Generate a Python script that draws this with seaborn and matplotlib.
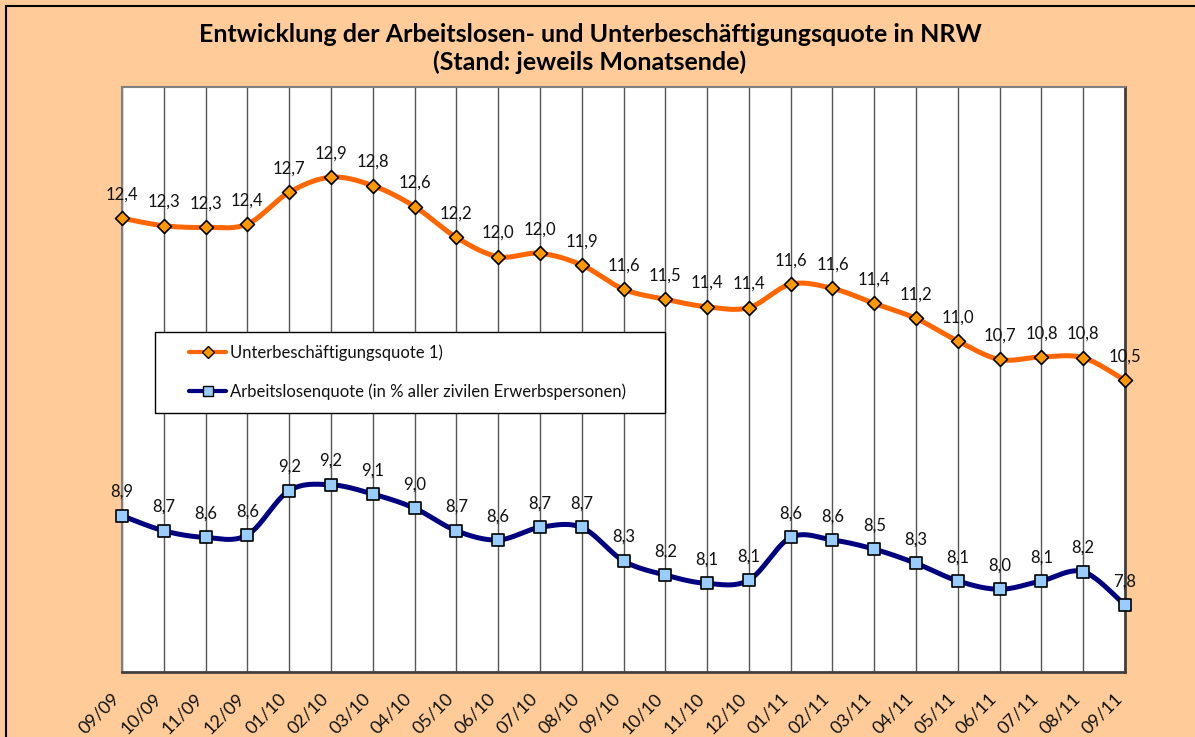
import numpy as np
import pandas as pd
import matplotlib
matplotlib.use("Agg")
import matplotlib.pyplot as plt
import seaborn as sns
from matplotlib.lines import Line2D
from matplotlib.legend_handler import HandlerLine2D
from matplotlib.patches import Rectangle
from matplotlib.transforms import ScaledTranslation

# ---------------- data ----------------
months = ["09/09", "10/09", "11/09", "12/09", "01/10", "02/10", "03/10", "04/10",
          "05/10", "06/10", "07/10", "08/10", "09/10", "10/10", "11/10", "12/10",
          "01/11", "02/11", "03/11", "04/11", "05/11", "06/11", "07/11", "08/11", "09/11"]
unterbeschaeftigung = [12.43, 12.34, 12.32, 12.36, 12.74, 12.92, 12.82, 12.57, 12.20,
                       11.97, 12.01, 11.87, 11.58, 11.46, 11.37, 11.36, 11.64, 11.59,
                       11.41, 11.23, 10.96, 10.74, 10.77, 10.76, 10.49]
arbeitslosen = [8.87, 8.69, 8.61, 8.64, 9.17, 9.24, 9.13, 8.96, 8.69, 8.58, 8.73, 8.73,
                8.33, 8.16, 8.06, 8.10, 8.61, 8.58, 8.47, 8.30, 8.09, 7.99, 8.09, 8.20, 7.80]
series_names = ["Unterbeschäftigungsquote 1)",
                "Arbeitslosenquote (in % aller zivilen Erwerbspersonen)"]
title_lines = ["Entwicklung der Arbeitslosen- und Unterbeschäftigungsquote in NRW",
               "(Stand: jeweils Monatsende)"]

# ---------------- style ----------------
BG = "#FFCC99"
ORANGE_LINE = "#FF6600"
ORANGE_MARK = "#FF9900"
NAVY = "#000080"
BLUE_MARK = "#99CCFF"

sns.set_theme(style="white")
plt.rcParams['font.family'] = ['Lato', 'DejaVu Sans']


def smooth(vals, n=24):
    """Excel-like smoothed line (Catmull-Rom / Bezier) through the data points."""
    p = np.column_stack([np.arange(len(vals)), vals]).astype(float)
    ext = np.vstack([p[0], p, p[-1]])
    t = np.linspace(0, 1, n, endpoint=False)[:, None]
    xs, ys = [], []
    for i in range(len(p) - 1):
        p0, p1, p2, p3 = ext[i], ext[i + 1], ext[i + 2], ext[i + 3]
        c1 = p1 + (p2 - p0) / 6
        c2 = p2 - (p3 - p1) / 6
        b = (1 - t) ** 3 * p1 + 3 * (1 - t) ** 2 * t * c1 + 3 * (1 - t) * t ** 2 * c2 + t ** 3 * p2
        xs.append(b[:, 0]); ys.append(b[:, 1])
    xs.append([p[-1, 0]]); ys.append([p[-1, 1]])
    return np.concatenate(xs), np.concatenate(ys)


fig = plt.figure(figsize=(11.95, 7.37), dpi=100, facecolor=BG)
ax = fig.add_axes([122 / 1195, 1 - 672 / 737, (1125 - 122) / 1195, (672 - 87) / 737])
ax.set_facecolor("white")

x = np.arange(len(months))
series = [
    (unterbeschaeftigung, ORANGE_LINE, ORANGE_MARK, "D", 50),
    (arbeitslosen, NAVY, BLUE_MARK, "s", 70),
]
for vals, lc, mc, mk, ms in series:
    sx, sy = smooth(vals)
    sns.lineplot(x=sx, y=sy, sort=False, estimator=None, color=lc, lw=3.6, ax=ax, zorder=3)
    sns.scatterplot(x=x, y=vals, marker=mk, s=ms, color=mc, edgecolor="black",
                    linewidth=1.2, ax=ax, zorder=5, clip_on=False)
    for xi, v in zip(x, vals):
        ax.annotate(f"{v:.1f}".replace(".", ","), (xi, v), xytext=(0, 13.5),
                    textcoords="offset points", ha="center", va="baseline",
                    fontsize=12, color="#111111", annotation_clip=False)

ax.set_xlim(0, len(months) - 1)
ax.set_ylim(7, 14)
ax.set_yticks([])
ax.set_xticks(x)
ax.set_xticklabels(months, rotation=45, ha="right", rotation_mode="anchor", fontsize=13)
ax.tick_params(axis="x", length=0, pad=13, colors="#111111")
off = ScaledTranslation(-11 / 100, 0, fig.dpi_scale_trans)
for lab in ax.get_xticklabels():
    lab.set_transform(lab.get_transform() + off)
ax.grid(axis="x", color="#555555", lw=1)
ax.grid(axis="y", visible=False)
ax.set_xlabel(""); ax.set_ylabel("")
for side, col, lw in [("left", "#808080", 1.5), ("top", "#808080", 1.5),
                      ("bottom", "#404040", 2), ("right", "#404040", 2)]:
    ax.spines[side].set_visible(True)
    ax.spines[side].set_color(col)
    ax.spines[side].set_linewidth(lw)


class PadHandler(HandlerLine2D):
    def adjust_drawing_area(self, legend, orig_handle, xdescent, ydescent, width, height, fontsize):
        pad = 1.3 * fontsize
        return xdescent - pad, ydescent, width - pad, height


handles = [
    Line2D([], [], color=ORANGE_LINE, lw=3, marker="D", markersize=6.5,
           markerfacecolor=ORANGE_MARK, markeredgecolor="black", markeredgewidth=1),
    Line2D([], [], color=NAVY, lw=3, marker="s", markersize=7.5,
           markerfacecolor=BLUE_MARK, markeredgecolor="black", markeredgewidth=1),
]
leg = ax.legend(handles, series_names, loc="upper left",
                bbox_to_anchor=(0.033, 0.3, 0.508, 0.281), mode="expand",
                frameon=True, fancybox=False, framealpha=1, edgecolor="black",
                borderpad=0.75, labelspacing=1.35, handlelength=3.5, handletextpad=0.25,
                borderaxespad=0, fontsize=12,
                handler_map={Line2D: PadHandler()})
leg.get_frame().set_linewidth(1.0)
for t in leg.get_texts():
    t.set_color("#111111")

fig.text(590 / 1195, 1 - 34 / 737, title_lines[0], ha="center", va="center",
         fontsize=18, fontweight="bold", color="black")
fig.text(590 / 1195, 1 - 62 / 737, title_lines[1], ha="center", va="center",
         fontsize=18, fontweight="bold", color="black")

fig.patches.append(Rectangle((6 / 1195, -0.2), 1.5, 1.2 - 6 / 737,
                             transform=fig.transFigure, fill=False,
                             edgecolor="black", lw=1.5, clip_on=False))

fig.savefig("out.png", dpi=100, facecolor=BG)
